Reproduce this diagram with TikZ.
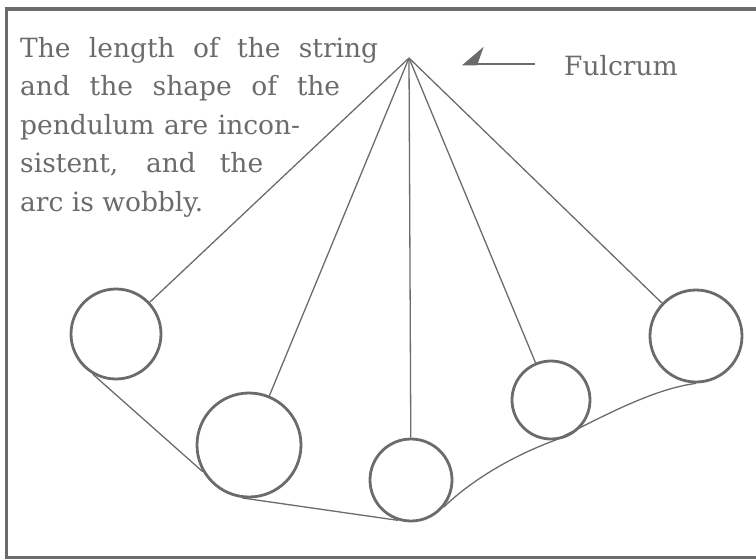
\documentclass[tikz,border=0pt]{standalone}
\usepackage{fontspec}
\setmainfont{DejaVu Serif}
\usetikzlibrary{arrows.meta}
\definecolor{ink}{gray}{0.42}
\tikzset{
  bob/.style={circle,draw=ink,line width=2.8pt,inner sep=0pt},
  cord/.style={draw=ink,line width=1.3pt},
  fin/.style={draw=ink,line width=2.6pt,-{Stealth[harpoon,swap,length=20pt,width=34pt,inset=6pt]}},
}
\begin{document}
\begin{tikzpicture}[x=1pt,y=-1pt,font=\fontsize{26.5}{38.5}\selectfont]
  \useasboundingbox (0,0) rectangle (756,560);
  \draw[ink,line width=3.5pt] (770,9) -- (6.5,9) -- (6.5,557.5) -- (770,557.5);

  \coordinate (top) at (409,58);
  \node[bob,minimum size=90pt]  (b1) at (116,334) {};
  \node[bob,minimum size=104pt] (b2) at (249,445) {};
  \node[bob,minimum size=82pt]  (b3) at (411,480) {};
  \node[bob,minimum size=78pt]  (b4) at (551,400) {};
  \node[bob,minimum size=92pt]  (b5) at (696,336) {};

  \foreach \b in {b1,b2,b3,b4,b5}
    \draw[cord] (top) -- (\b);

  \draw[cord] (b1.240) -- (b2.210);
  \draw[cord] (b2.263) -- (b3.252);
  \draw[cord] (b3.-40) .. controls (474,478) and (515,455) .. (b4.-84)
    .. controls (600,418) and (652,389) .. (b5.-90);

  \node[ink,anchor=base west,align=left,inner sep=0pt] (note) at (20,211)
    {\makebox[358pt][s]{The length of the string}\\
     \makebox[320pt][s]{and the shape of the}\\
     \makebox[280pt][s]{pendulum are incon-}\\
     \makebox[243pt][s]{sistent, and the}\\
     arc is wobbly.};

  \node[ink,anchor=base west,inner sep=0pt] (fulc) at (564,75) {Fulcrum};
  \coordinate (ftip) at (462,64);
  \draw[fin] ([xshift=-29pt]fulc.west |- ftip) -- (ftip);
\end{tikzpicture}
\end{document}
